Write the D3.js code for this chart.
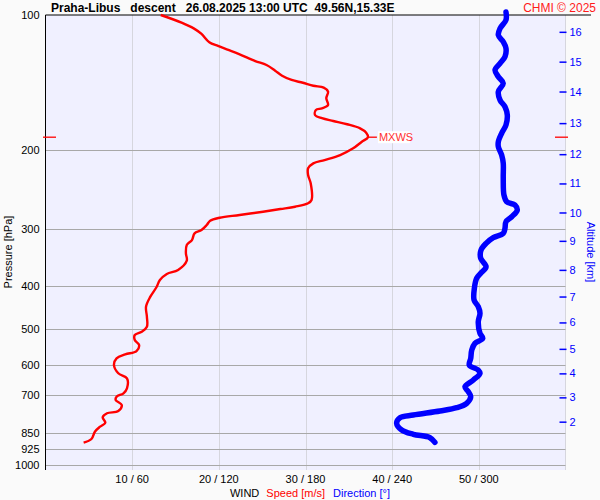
<!DOCTYPE html>
<html>
<head>
<meta charset="utf-8">
<script src="https://cdn.jsdelivr.net/npm/d3@7/dist/d3.min.js"></script>
<style>
  html, body { margin: 0; padding: 0; background: #fafafa; }
  svg { display: block; font-family: "Liberation Sans", Arial, sans-serif; }
</style>
</head>
<body>
<svg id="chart" width="600" height="500"></svg>
<script>
// ---------- DATA ----------
const titleText = "Praha-Libus   descent   26.08.2025 13:00 UTC  49.56N,15.33E";
const creditText = "CHMI \u00a9 2025";

const pressureTicks = [100, 200, 300, 400, 500, 600, 700, 850, 925, 1000];
const speedTicks = [10, 20, 30, 40, 50];
const dirTicks = [60, 120, 180, 240, 300];

const altitudeKm = [2, 3, 4, 5, 6, 7, 8, 9, 10, 11, 12, 13, 14, 15, 16];
const altitudePressure = [803, 709, 627, 553, 483, 423, 369, 318, 275, 237, 204, 174, 148, 127, 109];

const maxWindPressure = 187;

// wind speed profile [m/s] vs pressure [hPa]
const speedPressure = [100, 104, 107.1, 110.2, 115, 117.2, 119.6, 122.3, 126.6, 129.2, 133, 136.5, 139.5, 141.5, 143.7, 145.1, 148.1, 153.2, 158.6, 161.3, 162.7, 166.9, 169.7, 172.1, 175, 178.7, 182.7, 187.1, 191.4, 198, 204.9, 210.2, 213.8, 219.3, 227, 236.8, 258, 262.4, 267, 270.2, 273.9, 278.6, 282.5, 286.9, 293.3, 300.9, 306, 316.7, 324.9, 338.9, 352, 369.2, 376.8, 388.6, 403.4, 423.3, 445.6, 469, 493.6, 506.5, 515.1, 528.5, 542.2, 559.3, 568.8, 580.6, 600.8, 626.7, 643, 676.9, 694.4, 706.6, 718.8, 737.4, 760.3, 769.3, 785.2, 807.2, 823.9, 845.3, 877.6, 894.4];
const speedValues = [13.3, 15.7, 17.1, 18.0, 18.9, 19.9, 21.1, 22.4, 24.2, 25.5, 26.5, 27.3, 28.4, 29.7, 30.9, 32.1, 32.6, 32.4, 32.6, 31.9, 31.2, 31.1, 31.9, 33.2, 34.8, 36.3, 37.0, 37.2, 36.5, 35.5, 34.0, 32.2, 30.9, 30.3, 30.3, 30.6, 30.7, 30.3, 28.8, 27.1, 25.1, 22.4, 20.1, 19.0, 18.6, 18.0, 17.2, 16.9, 16.3, 16.2, 16.3, 15.3, 14.0, 13.2, 12.8, 12.1, 11.6, 11.7, 11.7, 11.1, 10.3, 10.3, 10.8, 10.5, 9.2, 8.2, 7.9, 8.4, 9.4, 9.4, 9.0, 8.2, 8.1, 8.8, 8.4, 7.1, 6.6, 6.9, 6.3, 5.7, 5.3, 4.4];

// wind direction profile [deg] vs pressure [hPa]
const dirPressure = [98.5, 102.6, 107.1, 110.8, 114.7, 118.6, 123.8, 128.1, 132.5, 137.2, 141.9, 148.1, 154.6, 160, 166.9, 175.7, 183.3, 191.4, 196.3, 204.9, 213.8, 230.8, 251.5, 260.3, 264.7, 271.6, 281.1, 288.4, 298.3, 306, 312.9, 322.1, 333.4, 347.8, 363.1, 375.5, 385.3, 405.5, 430.5, 445.6, 460.9, 481.2, 510.7, 524, 537.6, 556.4, 580.6, 600.8, 616.5, 626.7, 648.6, 671.4, 688.7, 706.6, 731, 747.7, 760.3, 776.1, 786.8, 809.7, 837.9, 856.6, 871.7, 892.6];
const dirValues = [318.8, 318.8, 314.7, 313.5, 316.9, 318.8, 318.1, 314.7, 311.2, 313.5, 316.9, 313.5, 314.7, 318.1, 319.7, 318.8, 315.8, 313.5, 313.5, 315.8, 316.9, 316.9, 317.4, 319.3, 325.0, 326.6, 322.8, 318.8, 318.1, 316.9, 310.0, 305.0, 301.5, 301.3, 305.0, 301.3, 298.5, 296.9, 296.7, 299.6, 300.8, 299.6, 300.8, 302.7, 297.3, 295.1, 294.4, 293.4, 299.6, 300.8, 296.2, 290.4, 292.7, 294.4, 291.6, 284.7, 273.1, 254.6, 245.4, 243.1, 246.6, 254.6, 266.2, 269.6];

// ---------- LAYOUT ----------
const pL = 45.5, pR = 565.5, pT = 15, pB = 470;
const svg = d3.select("#chart");
const font = 11;

const y = d3.scaleLog().domain([100, 1000]).range([pT, 464.5]);
const xs = d3.scaleLinear().domain([0, 60]).range([pL, pR]);
const xd = d3.scaleLinear().domain([0, 360]).range([pL, pR]);

// plot background
svg.append("rect").attr("x", pL).attr("y", pT).attr("width", pR - pL).attr("height", pB - pT).attr("fill", "#f0f0ff");

// vertical grid
svg.append("g").selectAll("line").data(speedTicks).join("line")
  .attr("x1", d => Math.round(xs(d)) + 0.5).attr("x2", d => Math.round(xs(d)) + 0.5)
  .attr("y1", pT).attr("y2", pB)
  .attr("stroke", "#d6d6de").attr("stroke-width", 1);
svg.append("line").attr("x1", pR).attr("x2", pR).attr("y1", pT).attr("y2", pB)
  .attr("stroke", "#d6d6de");

// horizontal grid
svg.append("g").selectAll("line").data(pressureTicks.filter(p => p > 100)).join("line")
  .attr("x1", pL).attr("x2", pR)
  .attr("y1", d => Math.round(y(d)) + 0.5).attr("y2", d => Math.round(y(d)) + 0.5)
  .attr("stroke", "#a8a8a8").attr("stroke-width", 1);

// top border & left axis line
svg.append("line").attr("x1", pL).attr("x2", 591).attr("y1", pT).attr("y2", pT).attr("stroke", "#000");
svg.append("line").attr("x1", pL).attr("x2", pL).attr("y1", pT).attr("y2", pB).attr("stroke", "#000");

// left pressure axis labels
const leftAxis = d3.axisLeft(y).tickValues(pressureTicks).tickFormat(d3.format("d")).tickSize(0).tickPadding(6);
const gL = svg.append("g").attr("transform", `translate(${pL},0)`).call(leftAxis);
gL.select(".domain").remove();
gL.selectAll("text").attr("font-size", font).attr("font-family", "Liberation Sans, Arial").attr("fill", "#000");

// right altitude axis
const rightAxis = d3.axisRight(y).tickValues(altitudePressure)
  .tickFormat((d, i) => altitudeKm[i]).tickSize(7).tickPadding(3);
const gR = svg.append("g").attr("transform", `translate(${pR - 6},0)`).call(rightAxis);
gR.select(".domain").remove();
gR.selectAll("line").attr("stroke", "#0000ff").attr("stroke-width", 1.5);
gR.selectAll("text").attr("font-size", font).attr("font-family", "Liberation Sans, Arial").attr("fill", "#0000ff");

// bottom labels
const gB = svg.append("g");
gB.selectAll("text").data(speedTicks).join("text")
  .attr("x", d => xs(d)).attr("y", 483)
  .attr("text-anchor", "middle").attr("font-size", font).attr("fill", "#000")
  .text((d, i) => `${d} / ${dirTicks[i]}`);

// legend
const leg = svg.append("text").attr("x", 310).attr("y", 497).attr("text-anchor", "middle").attr("font-size", font);
leg.append("tspan").attr("fill", "#000").text("WIND");
leg.append("tspan").attr("fill", "#ff0000").attr("dx", 7).text("Speed [m/s]");
leg.append("tspan").attr("fill", "#0000ff").attr("dx", 8).text("Direction [\u00b0]");

// axis titles
svg.append("text").attr("transform", "translate(12,252) rotate(-90)").attr("text-anchor", "middle")
  .attr("font-size", font).attr("fill", "#000").text("Pressure [hPa]");
svg.append("text").attr("transform", "translate(587,252) rotate(90)").attr("text-anchor", "middle")
  .attr("font-size", font).attr("fill", "#0000ff").text("Altitude [km]");

// title and credit
svg.append("text").attr("x", 51).attr("y", 11.5).attr("font-size", 12).attr("font-weight", "bold")
  .attr("fill", "#000").style("white-space", "pre").text(titleText);
svg.append("text").attr("x", 596).attr("y", 11.5).attr("font-size", 12).attr("text-anchor", "end")
  .attr("fill", "#ff1a1a").text(creditText);

// direction line
const dirData = dirPressure.map((p, i) => [p, dirValues[i]]);
svg.append("path").datum(dirData)
  .attr("d", d3.line().x(d => xd(d[1])).y(d => y(d[0])).curve(d3.curveCatmullRom))
  .attr("fill", "none").attr("stroke", "#0000ff").attr("stroke-width", 5.5)
  .attr("stroke-linejoin", "round").attr("stroke-linecap", "round");

// speed line
const spdData = speedPressure.map((p, i) => [p, speedValues[i]]);
svg.append("path").datum(spdData)
  .attr("d", d3.line().x(d => xs(d[1])).y(d => y(d[0])).curve(d3.curveCatmullRom))
  .attr("fill", "none").attr("stroke", "#ff0000").attr("stroke-width", 2.4)
  .attr("stroke-linejoin", "round");

// max wind marker
const maxIdx = speedValues.indexOf(d3.max(speedValues));
const ym = y(maxWindPressure);
svg.append("line").attr("x1", 43).attr("x2", 56).attr("y1", ym).attr("y2", ym).attr("stroke", "#ff0000").attr("stroke-width", 1.3);
svg.append("line").attr("x1", 555).attr("x2", 568).attr("y1", ym).attr("y2", ym).attr("stroke", "#ff0000").attr("stroke-width", 1.3);
const mx = xs(speedValues[maxIdx]);
svg.append("line").attr("x1", mx).attr("x2", mx + 9).attr("y1", ym).attr("y2", ym).attr("stroke", "#ff0000").attr("stroke-width", 1.3);
svg.append("rect").attr("x", mx + 10).attr("y", ym - 6).attr("width", 32).attr("height", 12).attr("fill", "#ffffff");
svg.append("text").attr("x", mx + 11).attr("y", ym + 4).attr("font-size", font).attr("fill", "#ff3030").text("MXWS");
</script>
</body>
</html>
